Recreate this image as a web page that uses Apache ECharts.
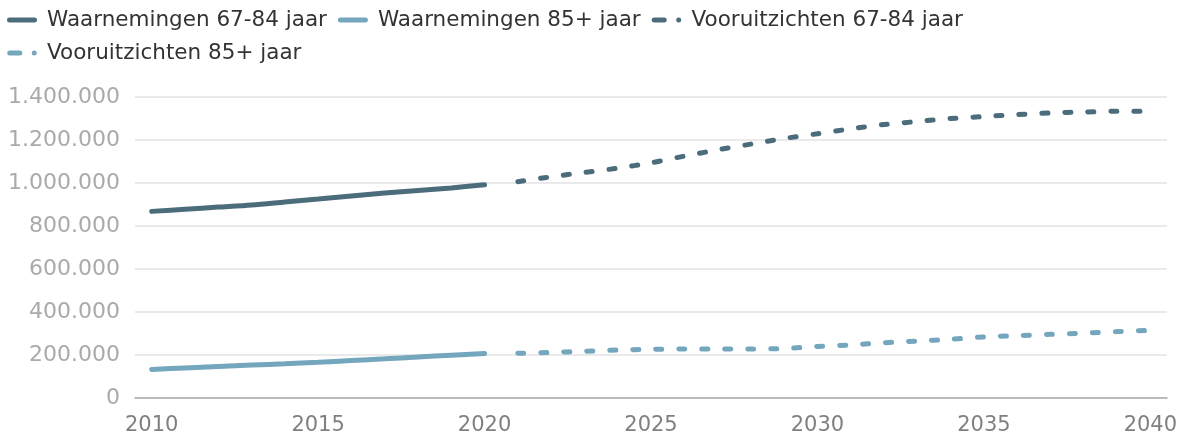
<!DOCTYPE html>
<html>
<head>
<meta charset="utf-8">
<script src="https://cdn.jsdelivr.net/npm/echarts@6/dist/echarts.min.js"></script>
<style>
  html, body { margin: 0; padding: 0; background: #fff; }
  #main { width: 1184px; height: 437px; }
</style>
</head>
<body>
<div id="main"></div>
<script>
// jaren op de x-as
var jaren = [];
for (var j = 2010; j <= 2040; j++) jaren.push(String(j));

// waarnemingen 2010-2020
var waarn6784 = [868000, 878000, 888000, 898000, 912000, 926000, 940000, 953000, 965000, 977000, 992000];
var waarn85 = [133000, 140000, 147000, 153000, 159000, 166000, 174000, 182000, 191000, 199000, 207000];

// vooruitzichten 2021-2040
var voor6784 = [1006000, 1029000, 1049000, 1069000, 1094000, 1125000, 1154000, 1181000, 1207000, 1229000,
                1252000, 1272000, 1286000, 1300000, 1309000, 1318000, 1326000, 1330000, 1334000, 1334000];
var voor85 = [208000, 212000, 217000, 223000, 226000, 228000, 228000, 228000, 230000, 240000,
              247000, 257000, 265000, 273000, 284000, 290000, 296000, 302000, 309000, 315000];

var donker = '#4b6d7b';
var licht = '#74a6bd';

// legend-iconen: streep, en streep + stip
var iconLijn = 'path://M2.5,0H27.5A2.5,2.5 0 0 1 27.5,5H2.5A2.5,2.5 0 0 1 2.5,0Z';
var iconStreep = 'path://M2.5,0H12.5A2.5,2.5 0 0 1 12.5,5H2.5A2.5,2.5 0 0 1 2.5,0Z' +
                 'M27,0A2.5,2.5 0 0 1 27,5A2.5,2.5 0 0 1 27,0Z';

// lege plekken opvullen zodat alles op dezelfde as valt
function vul(waarden, start) {
  var uit = [];
  for (var i = 0; i < jaren.length; i++) {
    var k = i - start;
    uit.push(k >= 0 && k < waarden.length ? waarden[k] : '-');
  }
  return uit;
}

function punten(v) {
  return String(v).replace(/\B(?=(\d{3})+(?!\d))/g, '.');
}

var font = '"DejaVu Sans", sans-serif';

var myChart = echarts.init(document.getElementById('main'));
var option = {
  animation: false,
  textStyle: { fontFamily: font },
  legend: {
    left: 2,
    top: 4,
    itemWidth: 30,
    itemHeight: 5,
    itemGap: 11,
    textStyle: { fontSize: 21.5, color: '#333', fontFamily: font, padding: [0, 9, 0, 5] },
    data: [
      { name: 'Waarnemingen 67-84 jaar', icon: iconLijn },
      { name: 'Waarnemingen 85+ jaar', icon: iconLijn },
      { name: 'Vooruitzichten 67-84 jaar', icon: iconStreep },
      { name: 'Vooruitzichten 85+ jaar', icon: iconStreep }
    ]
  },
  grid: { left: 135, right: 17, top: 97, bottom: 39, containLabel: false },
  xAxis: {
    type: 'category',
    data: jaren,
    boundaryGap: true,
    axisLine: { lineStyle: { color: '#aaa', width: 1.5 } },
    axisTick: { alignWithLabel: true, interval: 4, length: 6, lineStyle: { color: '#aaa' } },
    axisLabel: { interval: 4, fontSize: 21, color: '#808080', margin: 17, fontFamily: font }
  },
  yAxis: {
    type: 'value',
    min: 0,
    max: 1400000,
    interval: 200000,
    axisLine: { show: false },
    axisTick: { show: false },
    splitLine: { lineStyle: { color: '#e3e3e3', width: 1.5 } },
    axisLabel: { fontSize: 22, color: '#aaa', margin: 15, fontFamily: font, formatter: punten }
  },
  series: [
    {
      name: 'Waarnemingen 67-84 jaar', type: 'line', data: vul(waarn6784, 0),
      smooth: 0.3, showSymbol: false, symbol: 'none', color: donker,
      lineStyle: { width: 5, color: donker, cap: 'round' }
    },
    {
      name: 'Waarnemingen 85+ jaar', type: 'line', data: vul(waarn85, 0),
      smooth: 0.3, showSymbol: false, symbol: 'none', color: licht,
      lineStyle: { width: 5, color: licht, cap: 'round' }
    },
    {
      name: 'Vooruitzichten 67-84 jaar', type: 'line', data: vul(voor6784, 11),
      smooth: 0.3, showSymbol: false, symbol: 'none', color: donker,
      lineStyle: { width: 5, color: donker, type: [6, 17], cap: 'round' }
    },
    {
      name: 'Vooruitzichten 85+ jaar', type: 'line', data: vul(voor85, 11),
      smooth: 0.3, showSymbol: false, symbol: 'none', color: licht,
      lineStyle: { width: 5, color: licht, type: [6, 17], cap: 'round' }
    }
  ]
};
myChart.setOption(option);
</script>
</body>
</html>
